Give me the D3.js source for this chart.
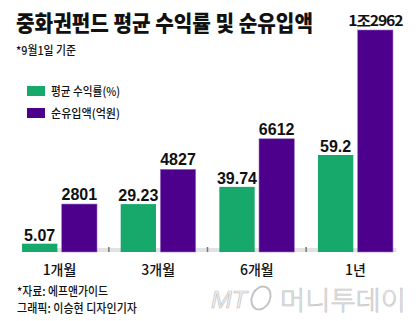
<!DOCTYPE html>
<html><head><meta charset="utf-8">
<script src="https://cdn.jsdelivr.net/npm/d3@7"></script>
<style>
html,body{margin:0;padding:0;background:#fff;}
svg{display:block;}
.kr{font-family:"Noto Sans CJK KR","Noto Sans",sans-serif;}
.num{font-family:"Liberation Sans Narrow","Liberation Sans",Arial,sans-serif;font-weight:bold;}
</style></head>
<body>
<svg id="c" width="419" height="321"></svg>
<script>
const categories = ["1개월", "3개월", "6개월", "1년"];
const returnValues = [5.07, 29.23, 39.74, 59.2];          // 평균 수익률(%)
const inflowValues = [2801, 4827, 6612, 12962];           // 순유입액(억원)
const returnLabels = ["5.07", "29.23", "39.74", "59.2"];
const inflowLabels = ["2801", "4827", "6612", "1조2962"];
const seriesNames = ["평균 수익률(%)", "순유입액(억원)"];

const GREEN = "#17a86b", PURPLE = "#4d008c";
const svg = d3.select("#c");
const base = 252;

const x0 = d3.scaleBand().domain(categories).range([10.2, 404.8]).paddingInner(0.24).paddingOuter(0.12);
const x1 = d3.scaleBand().domain(["r", "f"]).range([0, x0.bandwidth()]).paddingInner(0.11);
const yR = d3.scaleLinear().domain([0, 59.2]).range([base, 155]);
const yF = d3.scaleLinear().domain([0, 12962]).range([base, 30]);

// axis band
svg.append("rect").attr("x", x0.range()[0] + 12).attr("y", base - 4).attr("width", 374).attr("height", 4).attr("fill", "#e2e2e2");
// separators
categories.slice(1).forEach((c, i) => {
  const xs = (x0(categories[i]) + x0.bandwidth() + x0(c)) / 2;
  svg.append("line").attr("x1", xs).attr("x2", xs).attr("y1", base - 5).attr("y2", base).attr("stroke", "#777").attr("stroke-width", 1.5);
});

const g = svg.append("g");
categories.forEach((c, i) => {
  const xr = x0(c) + x1("r"), xf = x0(c) + x1("f"), w = x1.bandwidth();
  g.append("rect").attr("x", xr).attr("y", yR(returnValues[i])).attr("width", w).attr("height", base - yR(returnValues[i])).attr("fill", GREEN);
  g.append("rect").attr("x", xf).attr("y", yF(inflowValues[i])).attr("width", w).attr("height", base - yF(inflowValues[i])).attr("fill", PURPLE).attr("stroke", "#9b6fc4").attr("stroke-width", 0.6);
  g.append("text").attr("class", "num").attr("x", xr + w / 2).attr("y", yR(returnValues[i]) - 3).attr("text-anchor", "middle").attr("font-size", 16).attr("fill", "#111").text(returnLabels[i]);
  const fl = g.append("text").attr("class", i === 3 ? "kr" : "num").attr("x", xf + w / 2).attr("y", yF(inflowValues[i]) - 4).attr("text-anchor", "middle").attr("font-size", i === 3 ? 14 : 16).attr("font-weight", "bold").attr("fill", "#111").text(inflowLabels[i]);
  if (i === 3) fl.attr("textLength", 54).attr("lengthAdjust", "spacingAndGlyphs").attr("letter-spacing", -1);
  svg.append("text").attr("class", "kr").attr("x", x0(c) + x0.bandwidth() / 2).attr("y", 275).attr("text-anchor", "middle").attr("font-size", 14).attr("font-weight", 500).attr("fill", "#111").text(c);
});

// title
svg.append("text").attr("class", "kr").attr("x", 16).attr("y", 31).attr("font-size", 22).attr("font-weight", 900).attr("fill", "#111")
  .attr("textLength", 297).attr("lengthAdjust", "spacingAndGlyphs").text("중화권펀드 평균 수익률 및 순유입액");
svg.append("text").attr("class", "kr").attr("x", 16).attr("y", 55).attr("font-size", 12).attr("font-weight", 500).attr("fill", "#111")
  .attr("textLength", 60).attr("lengthAdjust", "spacingAndGlyphs").text("*9월1일 기준");

// legend
const colors = [GREEN, PURPLE];
seriesNames.forEach((n, i) => {
  const ly = 86 + i * 22;
  svg.append("rect").attr("x", 27).attr("y", ly).attr("width", 18).attr("height", 10).attr("fill", colors[i]);
  svg.append("text").attr("class", "kr").attr("x", 51).attr("y", ly + 10).attr("font-size", 12).attr("font-weight", 500).attr("fill", "#111")
    .attr("textLength", 69).attr("lengthAdjust", "spacingAndGlyphs").text(n);
});

// footer
svg.append("text").attr("class", "kr").attr("x", 17).attr("y", 296).attr("font-size", 12).attr("font-weight", 500).attr("fill", "#111")
  .attr("textLength", 91).attr("lengthAdjust", "spacingAndGlyphs").text("*자료: 에프앤가이드");
svg.append("text").attr("class", "kr").attr("x", 17).attr("y", 313).attr("font-size", 12).attr("font-weight", 500).attr("fill", "#111")
  .attr("textLength", 120).attr("lengthAdjust", "spacingAndGlyphs").text("그래픽: 이승현 디자인기자");

// watermark
const wm = svg.append("g").attr("fill", "#f3f3f3").attr("stroke", "#c4c4c4").attr("stroke-width", 0.7);
wm.append("text").attr("x", 211).attr("y", 308).attr("font-family", "Liberation Sans, sans-serif").attr("font-style", "italic").attr("font-size", 24)
  .attr("textLength", 36).attr("lengthAdjust", "spacingAndGlyphs").text("MT");
wm.append("ellipse").attr("cx", 261).attr("cy", 298).attr("rx", 9).attr("ry", 12).attr("transform", "rotate(25 261 298)").attr("fill", "none").attr("stroke-width", 2);
wm.append("text").attr("class", "kr").attr("x", 280).attr("y", 310).attr("font-size", 26).attr("font-weight", 300)
  .attr("textLength", 126).attr("lengthAdjust", "spacingAndGlyphs").text("머니투데이");
</script>
</body></html>
